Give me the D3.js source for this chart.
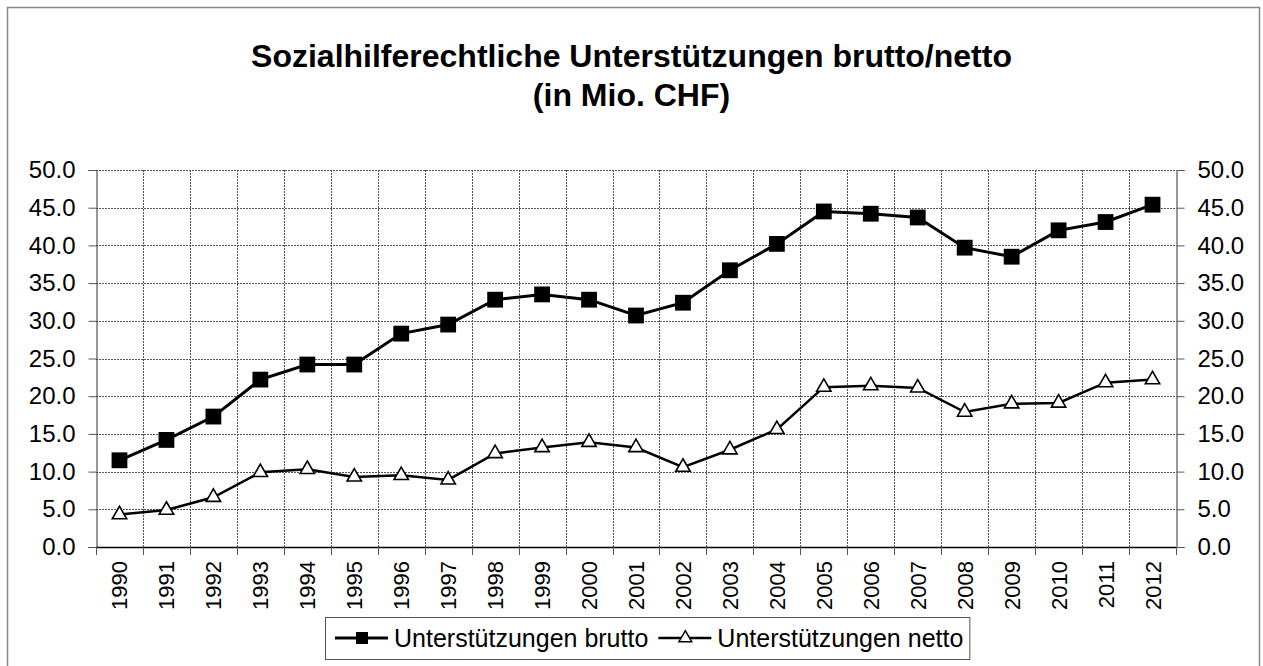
<!DOCTYPE html>
<html>
<head>
<meta charset="utf-8">
<script src="https://cdn.jsdelivr.net/npm/d3@7"></script>
<style>
    body { margin: 0; background: #fff; }
    svg { font-family: "Liberation Sans", Arial, sans-serif; }
</style>
</head>
<body>
<div id="chart"></div>
<script>
'use strict';

// data
let years = ['1990', '1991', '1992', '1993', '1994', '1995', '1996', '1997', '1998', '1999', '2000',
    '2001', '2002', '2003', '2004', '2005', '2006', '2007', '2008', '2009', '2010', '2011', '2012'];
let brutto = [11.5, 14.2, 17.3, 22.2, 24.2, 24.2, 28.3, 29.5, 32.8, 33.5, 32.8,
    30.7, 32.4, 36.7, 40.2, 44.5, 44.2, 43.7, 39.7, 38.5, 42.0, 43.1, 45.4];
let netto = [4.3, 4.9, 6.6, 9.9, 10.3, 9.3, 9.5, 8.9, 12.4, 13.2, 13.9,
    13.2, 10.6, 12.9, 15.6, 21.2, 21.4, 21.1, 17.9, 19.0, 19.1, 21.8, 22.2];
let yTicks = [0, 5, 10, 15, 20, 25, 30, 35, 40, 45, 50];
let titleLines = ['Sozialhilferechtliche Unterstützungen brutto/netto', '(in Mio. CHF)'];
let legendLabels = ['Unterstützungen brutto', 'Unterstützungen netto'];

let width = 1263,
    height = 666,
    margin = {
        top: 170,
        right: 87,
        bottom: 119,
        left: 96
    };

let svg = d3.select('#chart')
    .append('svg')
    .attr('width', width)
    .attr('height', height);

// outer frame
svg.append('rect')
    .attr('x', 7.5)
    .attr('y', 7.5)
    .attr('width', width - 11)
    .attr('height', height)
    .style('fill', 'none')
    .style('stroke', '#888')
    .style('stroke-width', 1.5);

// title
svg.append('text')
    .attr('x', width / 2)
    .attr('text-anchor', 'middle')
    .style('font-size', '32px')
    .style('font-weight', 'bold')
    .selectAll('tspan')
    .data(titleLines)
    .enter().append('tspan')
    .attr('x', width / 2)
    .attr('y', function(d, i) { return 67 + i * 39; })
    .text(function(d) { return d; });

let x = d3.scaleBand().domain(years).range([margin.left, width - margin.right]);
let y = d3.scaleLinear().domain([0, 50]).range([height - margin.bottom, margin.top]);

let g = svg.append('g');

// grid
let boundaries = d3.range(years.length + 1).map(function(i) {
    return margin.left + i * x.bandwidth();
});

g.selectAll('.hgrid')
    .data(yTicks.slice(1))
    .enter().append('line')
    .attr('class', 'hgrid')
    .attr('x1', margin.left)
    .attr('x2', width - margin.right)
    .attr('y1', function(d) { return Math.round(y(d)) + 0.5; })
    .attr('y2', function(d) { return Math.round(y(d)) + 0.5; })
    .style('stroke', '#555')
    .style('stroke-dasharray', '2,1');

g.selectAll('.vgrid')
    .data(boundaries.slice(1, -1))
    .enter().append('line')
    .attr('class', 'vgrid')
    .attr('x1', function(d) { return Math.round(d) + 0.5; })
    .attr('x2', function(d) { return Math.round(d) + 0.5; })
    .attr('y1', y(50))
    .attr('y2', y(0))
    .style('stroke', '#555')
    .style('stroke-dasharray', '2,1');

// y axes
let yAxisL = d3.axisLeft(y).tickValues(yTicks).tickFormat(d3.format('.1f')).tickSize(8).tickPadding(13);
let yAxisR = d3.axisRight(y).tickValues(yTicks).tickFormat(d3.format('.1f')).tickSize(8).tickPadding(13);

let gL = g.append('g')
    .attr('transform', 'translate(' + (margin.left + 0.5) + ',0)')
    .call(yAxisL);
let gR = g.append('g')
    .attr('transform', 'translate(' + (width - margin.right + 0.5) + ',0)')
    .call(yAxisR);

[gL, gR].forEach(function(ax) {
    ax.select('.domain').style('stroke', '#333');
    ax.selectAll('.tick line').style('stroke', '#555');
    ax.selectAll('.tick text')
        .style('font-size', '24px')
        .style('font-family', '"Liberation Sans", Arial, sans-serif')
        .style('fill', '#000');
});

// x axis
g.append('line')
    .attr('x1', margin.left)
    .attr('x2', width - margin.right)
    .attr('y1', y(0) + 0.5)
    .attr('y2', y(0) + 0.5)
    .style('stroke', '#000')
    .style('stroke-width', 1.5);

g.selectAll('.xtick')
    .data(boundaries)
    .enter().append('line')
    .attr('class', 'xtick')
    .attr('x1', function(d) { return Math.round(d) + 0.5; })
    .attr('x2', function(d) { return Math.round(d) + 0.5; })
    .attr('y1', y(0))
    .attr('y2', y(0) + 8)
    .style('stroke', '#555');

g.selectAll('.xlabel')
    .data(years)
    .enter().append('text')
    .attr('class', 'xlabel')
    .attr('transform', function(d) {
        return 'translate(' + (x(d) + x.bandwidth() / 2 + 8) + ',' + (y(0) + 14) + ') rotate(-90)';
    })
    .attr('text-anchor', 'end')
    .style('font-size', '22px')
    .text(function(d) { return d; });

// lines
let line = d3.line()
    .x(function(d, i) { return x(years[i]) + x.bandwidth() / 2; })
    .y(function(d) { return y(d); });

g.append('path')
    .datum(brutto)
    .attr('d', line)
    .style('fill', 'none')
    .style('stroke', '#000')
    .style('stroke-width', 3);

g.append('path')
    .datum(netto)
    .attr('d', line)
    .style('fill', 'none')
    .style('stroke', '#000')
    .style('stroke-width', 2.5);

let squareSym = d3.symbol().type(d3.symbolSquare).size(250);
let triSym = d3.symbol().type(d3.symbolTriangle).size(90);

g.selectAll('.sq')
    .data(brutto)
    .enter().append('path')
    .attr('class', 'sq')
    .attr('d', squareSym)
    .attr('transform', function(d, i) {
        return 'translate(' + (x(years[i]) + x.bandwidth() / 2) + ',' + y(d) + ')';
    })
    .style('fill', '#000');

g.selectAll('.tri')
    .data(netto)
    .enter().append('path')
    .attr('class', 'tri')
    .attr('d', triSym)
    .attr('transform', function(d, i) {
        return 'translate(' + (x(years[i]) + x.bandwidth() / 2) + ',' + y(d) + ')';
    })
    .style('fill', '#fff')
    .style('stroke', '#000')
    .style('stroke-width', 1.6);

// legend
let legend = svg.append('g');
let legendBox = legend.append('rect')
    .attr('y', 617.5)
    .attr('height', 42)
    .style('fill', '#fff')
    .style('stroke', '#555');

let lx = 335;
legendLabels.forEach(function(label, i) {
    legend.append('line')
        .attr('x1', lx)
        .attr('x2', lx + 53)
        .attr('y1', 638)
        .attr('y2', 638)
        .style('stroke', '#000')
        .style('stroke-width', i === 0 ? 3 : 2.5);
    legend.append('path')
        .attr('d', i === 0 ? d3.symbol().type(d3.symbolSquare).size(144)() : d3.symbol().type(d3.symbolTriangle).size(70)())
        .attr('transform', 'translate(' + (lx + 27) + ',638)')
        .style('fill', i === 0 ? '#000' : '#fff')
        .style('stroke', '#000')
        .style('stroke-width', i === 0 ? 0 : 1.5);
    let t = legend.append('text')
        .attr('x', lx + 59)
        .attr('y', 647)
        .style('font-size', '25px')
        .text(label);
    lx = lx + 59 + t.node().getComputedTextLength() + 10;
});
legendBox.attr('x', 325.5).attr('width', lx - 325 - 4);
</script>
</body>
</html>
